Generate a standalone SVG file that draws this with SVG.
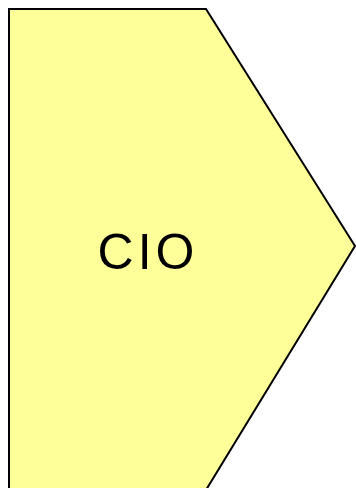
<svg xmlns="http://www.w3.org/2000/svg" width="356" height="488" viewBox="0 0 356 488">
<style>
.shape{fill:#ffff99;stroke:#000;stroke-width:2}
.lbl{font-family:"Liberation Sans",Arial,sans-serif;font-size:50px;fill:#000;text-anchor:middle;letter-spacing:4px}
</style>
<rect width="356" height="488" fill="#fff"/>
<g id="cio">
<polygon class="shape" points="9,9 206,9 355,246 206,490 9,490"/>
<text class="lbl" x="148" y="269">CIO</text>
</g>
<g id="connectors"/>
</svg>
